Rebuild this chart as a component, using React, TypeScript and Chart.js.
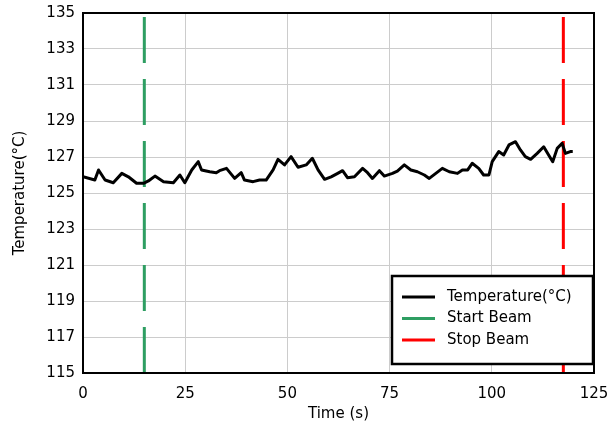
import { useEffect, useRef } from "react";
import { Chart, registerables } from "chart.js";

Chart.register(...registerables);

const timeSeconds = [
  0, 2.9, 3.8, 5.4, 7.4, 9.5, 11.1, 13.1, 14.8, 16, 17.6, 19.7, 22.1, 23.7, 24.9, 26.6, 28.2, 29,
  31, 32.6, 33.4, 35.1, 37.1, 38.7, 39.5, 41.6, 43.2, 44.8, 46.5, 47.7, 49.3, 50.9, 52.6, 54.6,
  56.1, 57.5, 59.1, 60.7, 62.3, 63.5, 64.7, 66.4, 68.4, 69.6, 70.8, 72.5, 73.7, 75.7, 76.9, 78.6,
  80.2, 81.8, 83.5, 84.7, 86.3, 87.9, 89.6, 91.6, 92.8, 94.1, 95.2, 96.8, 98, 99.3, 100.1, 101.7,
  102.9, 104.2, 105.8, 107, 108.2, 109.5, 111.1, 112.7, 113.9, 114.9, 116, 117.2, 118, 119.2, 119.8,
];
const temperatureC = [
  125.9, 125.72, 126.28, 125.72, 125.57, 126.09, 125.9, 125.54, 125.54, 125.67, 125.94, 125.63,
  125.57, 126.0, 125.57, 126.28, 126.74, 126.28, 126.18, 126.13, 126.24, 126.37, 125.81, 126.13,
  125.72, 125.63, 125.72, 125.72, 126.28, 126.87, 126.56, 127.02, 126.43, 126.56, 126.93, 126.28,
  125.76, 125.9, 126.09, 126.24, 125.85, 125.9, 126.37, 126.13, 125.81, 126.24, 125.94, 126.09,
  126.22, 126.56, 126.28, 126.18, 126.0, 125.81, 126.09, 126.37, 126.18, 126.09, 126.28, 126.28,
  126.65, 126.37, 126.0, 126.0, 126.74, 127.3, 127.11, 127.67, 127.85, 127.39, 127.02, 126.87,
  127.2, 127.57, 127.11, 126.74, 127.48, 127.76, 127.2, 127.3, 127.3,
];
const startBeamTime = 15;
const stopBeamTime = 117.5;
const beamSpan = [115, 135];
const xTicks = [0, 25, 50, 75, 100, 125];
const yTicks = [115, 117, 119, 121, 123, 125, 127, 129, 131, 133, 135];
const seriesLabels = ["Temperature(°C)", "Start Beam", "Stop Beam"];
const seriesColors = ["#000000", "#2e9e62", "#ff0000"];

const FONT = "'DejaVu Sans', 'Liberation Sans', Arial, sans-serif";

const framePlugin = {
  id: "frameAndLegend",
  afterDraw(chart: any) {
    const { ctx, chartArea } = chart;
    ctx.save();
    ctx.strokeStyle = "#000";
    ctx.lineWidth = 2;
    ctx.strokeRect(chartArea.left, chartArea.top, chartArea.right - chartArea.left, chartArea.bottom - chartArea.top);

    // legend box
    const bw = 201;
    const bh = 88;
    const bx = chartArea.right - 1 - bw;
    const by = chartArea.bottom - 9 - bh;
    ctx.fillStyle = "#fff";
    ctx.fillRect(bx, by, bw, bh);
    ctx.lineWidth = 2.5;
    ctx.strokeRect(bx, by, bw, bh);
    ctx.font = `15px ${FONT}`;
    ctx.textBaseline = "middle";
    ctx.textAlign = "left";
    chart.data.datasets.forEach((ds: any, i: number) => {
      const y = by + 21 + i * 21.5;
      ctx.beginPath();
      ctx.strokeStyle = ds.borderColor;
      ctx.lineWidth = 3;
      ctx.moveTo(bx + 10, y);
      ctx.lineTo(bx + 43, y);
      ctx.stroke();
      ctx.fillStyle = "#000";
      ctx.fillText(ds.label, bx + 55, y);
    });
    ctx.restore();
  },
};

export default function App() {
  const canvasRef = useRef<HTMLCanvasElement>(null);

  useEffect(() => {
    document.body.style.margin = "0";
    const canvas = canvasRef.current;
    if (!canvas) return;
    const chart = new Chart(canvas, {
      type: "line",
      data: {
        datasets: [
          {
            label: seriesLabels[0],
            data: timeSeconds.map((t, i) => ({ x: t, y: temperatureC[i] })),
            borderColor: seriesColors[0],
            borderWidth: 3,
            pointRadius: 0,
            tension: 0,
            borderJoinStyle: "round",
          },
          {
            label: seriesLabels[1],
            data: [
              { x: startBeamTime, y: beamSpan[0] },
              { x: startBeamTime, y: beamSpan[1] },
            ],
            borderColor: seriesColors[1],
            borderWidth: 3,
            borderDash: [46, 16],
            pointRadius: 0,
          },
          {
            label: seriesLabels[2],
            data: [
              { x: stopBeamTime, y: beamSpan[0] },
              { x: stopBeamTime, y: beamSpan[1] },
            ],
            borderColor: seriesColors[2],
            borderWidth: 3,
            borderDash: [46, 16],
            pointRadius: 0,
          },
        ],
      },
      options: {
        responsive: false,
        animation: false,
        devicePixelRatio: 1,
        layout: { padding: { top: 13, right: 13, left: 0, bottom: 0 } },
        plugins: { legend: { display: false }, tooltip: { enabled: false } },
        scales: {
          x: {
            type: "linear",
            min: xTicks[0],
            max: xTicks[xTicks.length - 1],
            afterBuildTicks: (s: any) => {
              s.ticks = xTicks.map((v) => ({ value: v }));
            },
            afterFit: (s: any) => {
              s.height = 54;
              s.paddingLeft = 0;
              s.paddingRight = 0;
            },
            grid: { color: "#cccccc", drawTicks: false, lineWidth: 1 },
            border: { display: false },
            ticks: { color: "#000", font: { family: FONT, size: 15 }, padding: 12, maxRotation: 0 },
            title: {
              display: true,
              text: "Time (s)",
              color: "#000",
              font: { family: FONT, size: 15 },
              padding: { top: 0, bottom: 4 },
            },
          },
          y: {
            type: "linear",
            min: yTicks[0],
            max: yTicks[yTicks.length - 1],
            afterBuildTicks: (s: any) => {
              s.ticks = yTicks.map((v) => ({ value: v }));
            },
            afterFit: (s: any) => {
              s.width = 83;
              s.paddingTop = 0;
              s.paddingBottom = 0;
            },
            grid: { color: "#cccccc", drawTicks: false, lineWidth: 1 },
            border: { display: false },
            ticks: { color: "#000", font: { family: FONT, size: 15 }, padding: 8 },
            title: {
              display: true,
              text: "Temperature(°C)",
              color: "#000",
              font: { family: FONT, size: 15 },
              padding: { top: 11, bottom: 0 },
            },
          },
        },
      },
      plugins: [framePlugin],
    } as any);
    return () => chart.destroy();
  }, []);

  return (
    <div style={{ position: "fixed", left: 0, top: 0, width: 607, height: 427, background: "#fff" }}>
      <canvas ref={canvasRef} width={607} height={427} style={{ display: "block", width: 607, height: 427 }} />
    </div>
  );
}
